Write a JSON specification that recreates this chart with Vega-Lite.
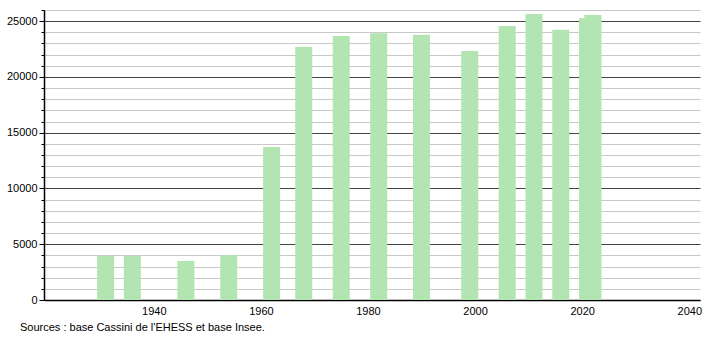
{
  "$schema": "https://vega.github.io/schema/vega-lite/v6.json",
  "width": 656,
  "height": 290,
  "autosize": {"type": "none"},
  "padding": {"left": 44, "top": 10, "right": 10, "bottom": 40},
  "background": "white",
  "config": {
    "view": {"stroke": null},
    "font": "Liberation Sans",
    "axis": {"labelFont": "Liberation Sans", "labelFontSize": 11, "labelColor": "#000"}
  },
  "title": {
    "text": "Sources : base Cassini de l'EHESS et base Insee.",
    "orient": "bottom",
    "anchor": "start",
    "frame": "group",
    "dx": -24,
    "offset": 6,
    "font": "Liberation Sans",
    "fontSize": 11,
    "fontWeight": "normal",
    "color": "#000"
  },
  "data": {
    "values": [
      {"year": 1931, "pop": 3950},
      {"year": 1936, "pop": 3950},
      {"year": 1946, "pop": 3500},
      {"year": 1954, "pop": 4040},
      {"year": 1962, "pop": 13720},
      {"year": 1968, "pop": 22690},
      {"year": 1975, "pop": 23680},
      {"year": 1982, "pop": 23920},
      {"year": 1990, "pop": 23790},
      {"year": 1999, "pop": 22330},
      {"year": 2006, "pop": 24570},
      {"year": 2011, "pop": 25650},
      {"year": 2016, "pop": 24220},
      {"year": 2021, "pop": 25290},
      {"year": 2022, "pop": 25560}
    ]
  },
  "resolve": {"axis": {"y": "independent"}},
  "layer": [
    {
      "mark": {"type": "bar", "width": 17, "color": "#b2e5b2"},
      "encoding": {
        "x": {
          "field": "year", "type": "quantitative",
          "scale": {"domain": [1919.5, 2042], "nice": false, "zero": false, "padding": 0},
          "axis": {
            "values": [1940, 1960, 1980, 2000, 2020, 2040],
            "format": "d", "title": null, "grid": false,
            "ticks": false, "labelPadding": 5,
            "domainColor": "#000", "domainWidth": 1.5
          }
        },
        "y": {
          "field": "pop", "type": "quantitative",
          "scale": {"domain": [0, 26000], "nice": false, "padding": 0},
          "axis": {
            "orient": "left",
            "values": [1000,2000,3000,4000,6000,7000,8000,9000,11000,12000,13000,14000,16000,17000,18000,19000,21000,22000,23000,24000,26000],
            "labels": false, "title": null,
            "grid": true, "gridColor": "#c8c8c8", "gridWidth": 1,
            "tickSize": 3, "tickColor": "#000",
            "domain": false
          }
        }
      }
    },
    {
      "mark": {"type": "point", "opacity": 0},
      "encoding": {
        "x": {
          "field": "year", "type": "quantitative",
          "axis": {
            "values": [1940, 1960, 1980, 2000, 2020, 2040],
            "format": "d", "title": null, "grid": false,
            "ticks": false, "labelPadding": 5,
            "domainColor": "#000", "domainWidth": 1.5
          }
        },
        "y": {
          "field": "pop", "type": "quantitative",
          "axis": {
            "orient": "left",
            "values": [0, 5000, 10000, 15000, 20000, 25000],
            "title": null, "format": "d",
            "grid": true, "gridColor": "#444", "gridWidth": 1,
            "tickSize": 5, "tickColor": "#000", "labelPadding": 2,
            "domain": true, "domainColor": "#000", "domainWidth": 1.5
          }
        }
      }
    }
  ]
}
